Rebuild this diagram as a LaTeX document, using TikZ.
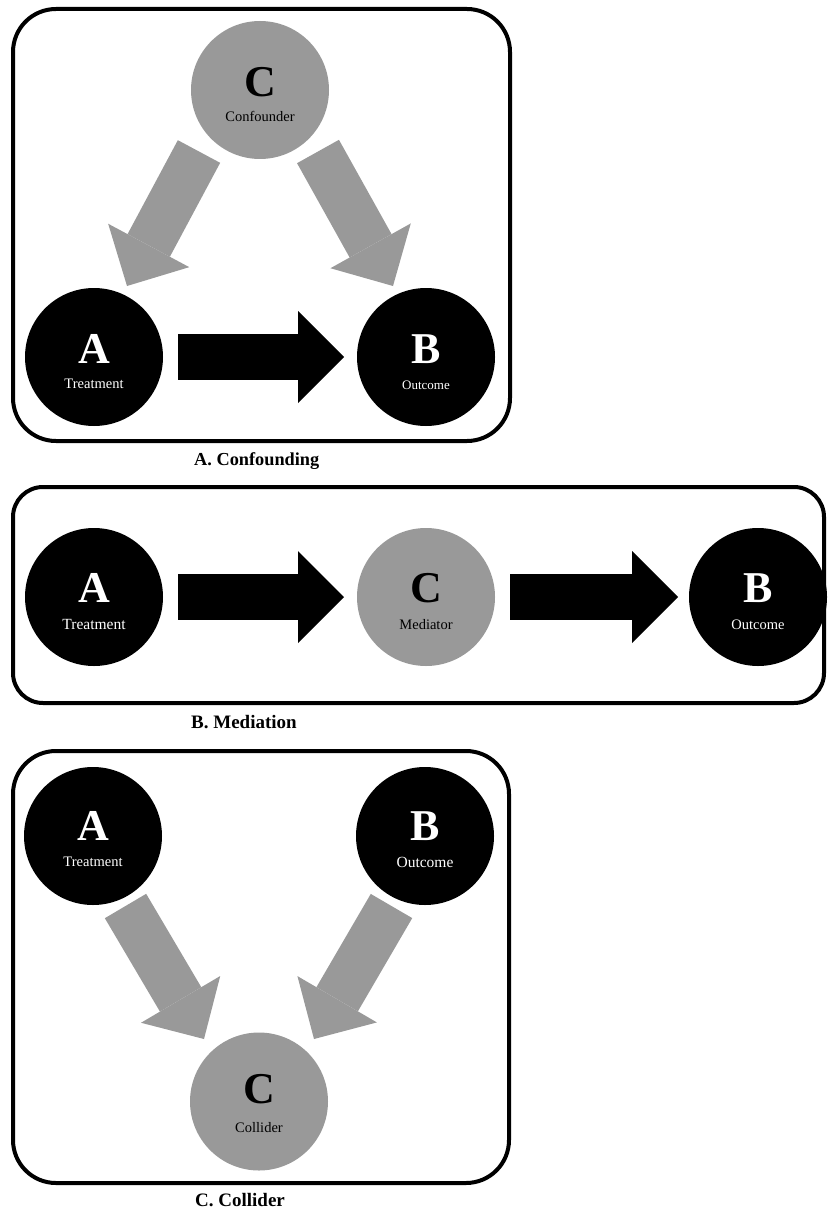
\documentclass[tikz,border=0pt]{standalone}
\usepackage{fontspec}
\setmainfont{Liberation Serif}
\usetikzlibrary{arrows.meta,calc}
\definecolor{nodegray}{RGB}{153,153,153}
\begin{document}
\begin{tikzpicture}[x=1pt,y=-1pt,
  panel/.style={draw=black,line width=4pt},
  blk/.style={circle,fill=black,minimum size=138pt,inner sep=0pt},
  gry/.style={circle,fill=nodegray,minimum size=138pt,inner sep=0pt},
  letter/.style={anchor=base,inner sep=0pt,font=\fontsize{44}{44}\selectfont\bfseries},
  sub/.style={anchor=base,inner sep=0pt,font=\fontsize{14.5}{14.5}\selectfont},
  blackarrow/.style={draw=black,line width=46pt,-{Triangle[length=46pt,width=92pt,line width=0pt]}},
  grayarrow/.style={draw=nodegray,line width=48pt,-{Triangle[length=46pt,width=92pt,line width=0pt]}},
  caption/.style={anchor=base west,inner sep=0pt,font=\fontsize{19}{19}\selectfont\bfseries}]
\useasboundingbox (0,0) rectangle (827,1209);

% ---------- Panel A: Confounding ----------
\draw[panel,rounded corners=43pt] (13,9) rectangle (510,441);
\node[gry] (aC) at (260,90) {};
\node[blk] (aA) at (94,357) {};
\node[blk] (aB) at (426,357) {};
\node[letter] (aCl) at ($(aC)+(0,7)$) {C};
\node[sub] (aCs) at ($(aC)+(0,32)$) {Confounder};
\node[letter,text=white] (aAl) at ($(aA)+(0,6)$) {A};
\node[sub,text=white] (aAs) at ($(aA)+(0,31)$) {Treatment};
\node[letter,text=white] (aBl) at ($(aB)+(0,6)$) {B};
\node[sub,text=white,font=\fontsize{13}{13}\selectfont] (aBs) at ($(aB)+(0,32)$) {Outcome};
\draw[grayarrow] ($(aC)+(-61,61.5)$) -- ($(aA)+(33,-71)$);
\draw[grayarrow] ($(aC)+(58,61.5)$) -- ($(aB)+(-33,-71)$);
\draw[blackarrow] ($(aA)+(84,0)$) -- ($(aB)+(-82,0)$);
\node[caption,font=\fontsize{18.3}{18.3}\selectfont\bfseries] (capA) at (194,465) {A. Confounding};

% ---------- Panel B: Mediation ----------
\draw[panel,rounded corners=30pt] (13,487) rectangle (824,703);
\node[blk] (bA) at (94,597) {};
\node[gry] (bC) at (426,597) {};
\node[blk] (bB) at (758,597) {};
\node[letter,text=white] (bAl) at ($(bA)+(0,5)$) {A};
\node[sub,text=white,font=\fontsize{15.5}{15.5}\selectfont] (bAs) at ($(bA)+(0,32)$) {Treatment};
\node[letter] (bCl) at ($(bC)+(0,5)$) {C};
\node[sub] (bCs) at ($(bC)+(0,32)$) {Mediator};
\node[letter,text=white] (bBl) at ($(bB)+(0,5)$) {B};
\node[sub,text=white] (bBs) at ($(bB)+(0,32)$) {Outcome};
\draw[blackarrow] ($(bA)+(84,0)$) -- ($(bC)+(-82,0)$);
\draw[blackarrow] ($(bC)+(84,0)$) -- ($(bB)+(-80,0)$);
\node[caption] (capB) at (191,728) {B. Mediation};

% ---------- Panel C: Collider ----------
\draw[panel,rounded corners=43pt] (13,751) rectangle (509,1183);
\node[blk] (cA) at (93,836) {};
\node[blk] (cB) at (425,836) {};
\node[gry] (cC) at (259,1101.5) {};
\node[letter,text=white] (cAl) at ($(cA)+(0,4)$) {A};
\node[sub,text=white] (cAs) at ($(cA)+(0,30)$) {Treatment};
\node[letter,text=white] (cBl) at ($(cB)+(0,4)$) {B};
\node[sub,text=white,font=\fontsize{15.5}{15.5}\selectfont] (cBs) at ($(cB)+(0,31)$) {Outcome};
\node[letter] (cCl) at ($(cC)+(0,2)$) {C};
\node[sub] (cCs) at ($(cC)+(0,31)$) {Collider};
\draw[grayarrow] ($(cA)+(32.5,70)$) -- ($(cC)+(-55,-62.5)$);
\draw[grayarrow] ($(cB)+(-33.5,70)$) -- ($(cC)+(55,-62.5)$);
\node[caption] (capC) at (195,1206) {C. Collider};
\end{tikzpicture}
\end{document}
